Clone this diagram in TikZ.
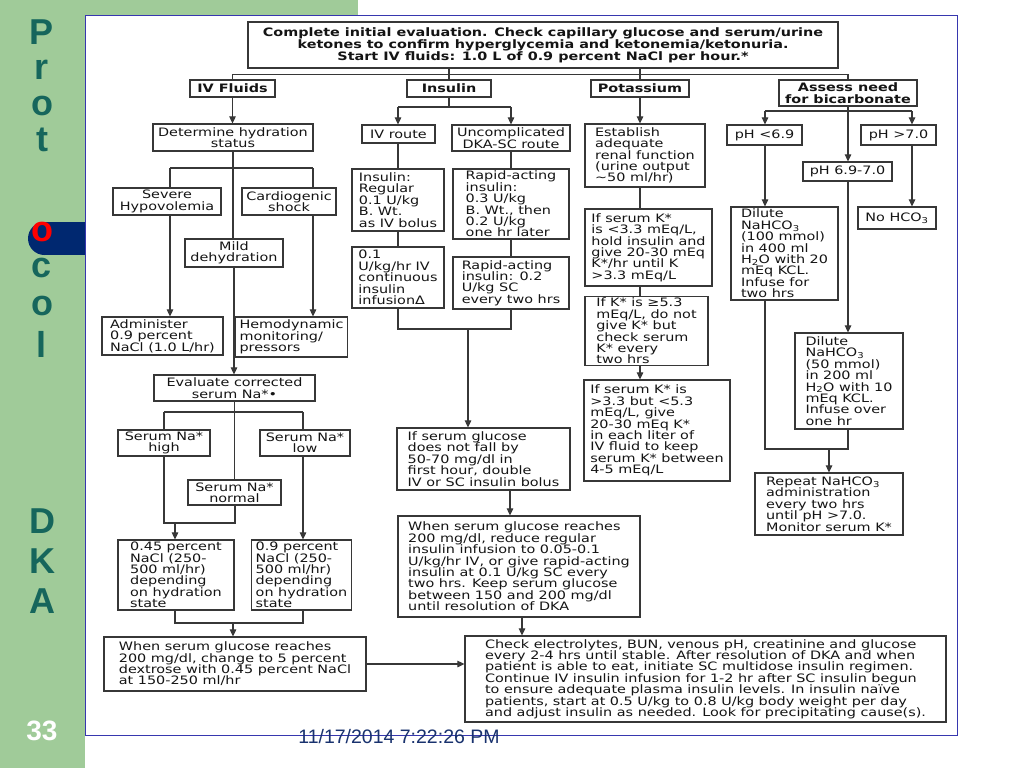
\documentclass[tikz,border=0pt]{standalone}
\usepackage{fontspec}
\usetikzlibrary{arrows.meta}
\newfontfamily\diagfont[FakeStretch=1.24]{DejaVu Sans}
\newfontfamily\sidefont{Liberation Sans}
\definecolor{sidegreen}{RGB}{160,203,153}
\definecolor{sideteal}{RGB}{22,102,92}
\definecolor{tabnavy}{RGB}{0,40,112}
\definecolor{frameblue}{RGB}{55,55,175}
\definecolor{datecol}{RGB}{25,50,110}
\definecolor{boxline}{RGB}{55,55,55}
\definecolor{txt}{RGB}{20,20,20}
\newcommand{\mybox}[7][]{%
  \pgfmathsetmacro{\myw}{#5-#3}%
  \pgfmathsetmacro{\myh}{#6-#4}%
  \pgfmathsetmacro{\mycx}{(#3+#5)/2}%
  \pgfmathsetmacro{\mycy}{(#4+#6)/2}%
  \node[bx,minimum width=\myw pt,minimum height=\myh pt,#1] (#2) at (\mycx,\mycy) {#7};%
}
\begin{document}
\begin{tikzpicture}[x=1pt,y=-1pt,
  bx/.style={draw=boxline,line width=1.2pt,fill=white,text=txt,inner xsep=4pt,inner ysep=1.5pt,
    align=left,font=\diagfont\fontsize{11.6pt}{11.4pt}\selectfont},
  ctr/.style={align=center},
  hdr/.style={align=center,font=\diagfont\bfseries\fontsize{11.6pt}{11.9pt}\selectfont},
  ln/.style={draw=boxline,line width=1.1pt},
  arr/.style={draw=boxline,line width=1.1pt,-{Triangle[length=7pt,width=6.5pt]}},
  sidel/.style={anchor=base,inner sep=0pt,text=sideteal,font=\sidefont\bfseries\fontsize{36pt}{36pt}\selectfont}]
\useasboundingbox (0,0) rectangle (1024,768);
\fill[white] (0,0) rectangle (1024,768);
% sidebar
\fill[sidegreen] (0,0) rectangle (85,768);
\fill[sidegreen] (0,0) rectangle (358,15);
\fill[tabnavy] (44.5,238.5) circle[radius=16.5];
\fill[tabnavy] (44.5,222) rectangle (85,255);
\node[sidel] (sP) at (42,45) {P};
\node[sidel] (sr) at (42,79) {r};
\node[sidel] (so1) at (42,115) {o};
\node[sidel] (st) at (42,151) {t};
\node[sidel,text=red] (so2) at (42,241) {o};
\node[sidel] (sc) at (42,277) {c};
\node[sidel] (so3) at (42,315) {o};
\node[sidel] (sl) at (42,357) {l};
\node[sidel] (sD) at (42,533) {D};
\node[sidel] (sK) at (42,573) {K};
\node[sidel] (sA) at (42,613) {A};
\node[sidel,text=white,font=\sidefont\bfseries\fontsize{28pt}{28pt}\selectfont] (s33) at (42,740) {33};
% frame
\draw[frameblue,line width=1pt] (85,16) -- (957,16) -- (957,735) -- (85,735) -- cycle;
\node[anchor=base,text=datecol,font=\sidefont\fontsize{19.5pt}{20pt}\selectfont] (date) at (399,743) {11/17/2014 7:22:26 PM};

% ---------- boxes ----------
\mybox[hdr]{top}{248}{22}{838}{68}{Complete initial evaluation. Check capillary glucose and serum/urine\\ketones to confirm hyperglycemia and ketonemia/ketonuria.\\Start IV fluids: 1.0 L of 0.9 percent NaCl per hour.*}
\mybox[hdr]{ivf}{190}{80}{275}{97}{IV Fluids}
\mybox[hdr]{ins}{407}{80}{491}{97}{Insulin}
\mybox[hdr]{pot}{591}{80}{689}{97}{Potassium}
\mybox[hdr]{bic}{779}{80}{917}{106}{Assess need\\for bicarbonate}
% IV fluids
\mybox[ctr]{det}{153}{124}{313}{151}{Determine hydration\\status}
\mybox[ctr]{sev}{113}{188}{221}{215}{Severe\\Hypovolemia}
\mybox[ctr]{card}{242}{188}{336}{215}{Cardiogenic\\shock}
\mybox[ctr]{mild}{185}{239}{283}{267}{Mild\\dehydration}
\mybox{adm}{102}{317}{223}{355}{Administer\\0.9 percent\\NaCl (1.0 L/hr)}
\mybox{hemo}{245}{317}{338}{357}{Hemodynamic\\monitoring/\\pressors}
\mybox[ctr]{eval}{154}{375}{315}{401}{Evaluate corrected\\serum Na*•}
\mybox[ctr]{nahigh}{118}{430}{210}{456}{Serum Na*\\high}
\mybox[ctr]{nalow}{260}{430}{350}{456}{Serum Na*\\low}
\mybox[ctr]{nanorm}{188}{480}{281}{505}{Serum Na*\\normal}
\mybox{p045}{118}{540}{234}{610}{0.45 percent\\NaCl (250-\\500 ml/hr)\\depending\\on hydration\\state}
\mybox{p09}{253}{540}{350}{610}{0.9 percent\\NaCl (250-\\500 ml/hr)\\depending\\on hydration\\state}
\mybox{dex}{104}{637}{366}{691}{When serum glucose reaches\\200 mg/dl, change to 5 percent\\dextrose with 0.45 percent NaCl\\at 150-250 ml/hr}
% Insulin
\mybox[ctr]{ivr}{362}{125}{435}{143}{IV route}
\mybox[ctr]{unc}{452}{125}{570}{151}{Uncomplicated\\DKA-SC route}
\mybox{reg}{352}{169}{444}{231}{Insulin:\\Regular\\0.1 U/kg\\B. Wt.\\as IV bolus}
\mybox{rap}{453}{169}{569}{239}{Rapid-acting\\insulin:\\0.3 U/kg\\B. Wt., then\\0.2 U/kg\\one hr later}
\mybox{inf}{352}{247}{444}{308}{0.1\\U/kg/hr IV\\continuous\\insulin\\infusionΔ}
\mybox{rap2}{453}{257}{569}{309}{Rapid-acting\\insulin: 0.2\\U/kg SC\\every two hrs}
\mybox{fall}{397}{428}{570}{490}{If serum glucose\\does not fall by\\50-70 mg/dl in\\first hour, double\\IV or SC insulin bolus}
\mybox{red}{398}{516}{640}{617}{When serum glucose reaches\\200 mg/dl, reduce regular\\insulin infusion to 0.05-0.1\\U/kg/hr IV, or give rapid-acting\\insulin at 0.1 U/kg SC every\\two hrs. Keep serum glucose\\between 150 and 200 mg/dl\\until resolution of DKA}
\mybox{final}{465}{636}{946}{722}{Check electrolytes, BUN, venous pH, creatinine and glucose\\every 2-4 hrs until stable. After resolution of DKA and when\\patient is able to eat, initiate SC multidose insulin regimen.\\Continue IV insulin infusion for 1-2 hr after SC insulin begun\\to ensure adequate plasma insulin levels. In insulin naïve\\patients, start at 0.5 U/kg to 0.8 U/kg body weight per day\\and adjust insulin as needed. Look for precipitating cause(s).}
% Potassium
\mybox{est}{585}{124}{705}{187}{Establish\\adequate\\renal function\\(urine output\\\textasciitilde 50 ml/hr)}
\mybox{k1}{585}{209}{712}{286}{If serum K*\\is <3.3 mEq/L,\\hold insulin and\\give 20-30 mEq\\K*/hr until K\\>3.3 mEq/L}
\mybox{k2}{585}{297}{708}{365}{If K* is ≥5.3\\mEq/L, do not\\give K* but\\check serum\\K* every\\two hrs}
\mybox{k3}{584}{380}{730}{481}{If serum K* is\\>3.3 but <5.3\\mEq/L, give\\20-30 mEq K*\\in each liter of\\IV fluid to keep\\serum K* between\\4-5 mEq/L}
% Bicarbonate
\mybox[ctr]{ph1}{727}{125}{802}{145}{pH <6.9}
\mybox[ctr]{ph3}{861}{125}{936}{145}{pH >7.0}
\mybox[ctr]{ph2}{803}{162}{892}{181}{pH 6.9-7.0}
\mybox{dil1}{731}{207}{838}{300}{Dilute\\NaHCO\textsubscript{3}\\(100 mmol)\\in 400 ml\\H\textsubscript{2}O with 20\\mEq KCL.\\Infuse for\\two hrs}
\mybox[ctr]{noh}{858}{207}{936}{229}{No HCO\textsubscript{3}}
\mybox{dil2}{795}{333}{903}{429}{Dilute\\NaHCO\textsubscript{3}\\(50 mmol)\\in 200 ml\\H\textsubscript{2}O with 10\\mEq KCL.\\Infuse over\\one hr}
\mybox{rep}{755}{473}{903}{535}{Repeat NaHCO\textsubscript{3}\\administration\\every two hrs\\until pH >7.0.\\Monitor serum K*}

% ---------- connectors ----------
\path (ivf.north) ++(0,-5) coordinate (hL);
\path (bic.north) ++(0,-5) coordinate (hR);
\draw[ln] (hL) -- (hR);
\draw[ln] (hL) -- (ivf.north);
\draw[ln] (hR) -- (bic.north);
\draw[ln] (top.south -| ins.north) -- (ins.north);
\draw[ln] (top.south -| pot.north) -- (pot.north);
% IV fluids
\draw[arr] (ivf.south) -- (ivf.south |- det.north);
\draw[ln] (det.south) -- (det.south |- mild.north);
\draw[arr] (mild.south) -- (mild.south |- eval.north);
\coordinate (b1L) at (170,168);
\coordinate (b1R) at (313,168);
\draw[ln] (b1L) -- (b1R);
\draw[ln] (b1L) -- (b1L |- sev.north);
\draw[arr] (b1L |- sev.south) -- (b1L |- adm.north);
\draw[ln] (b1R) -- (b1R |- card.north);
\draw[arr] (b1R |- card.south) -- (b1R |- hemo.north);
\coordinate (b2L) at (164,412);
\coordinate (b2R) at (303,412);
\draw[ln] (b2L) -- (b2R);
\draw[ln] (eval.south) -- (eval.south |- nanorm.north);
\draw[ln] (b2L) -- (b2L |- nahigh.north);
\draw[ln] (b2R) -- (b2R |- nalow.north);
\coordinate (j1L) at (164,523);
\coordinate (j1R) at (235,523);
\coordinate (j1A) at (175,523);
\draw[ln] (j1L |- nahigh.south) -- (j1L) -- (j1R) -- (j1R |- nanorm.south);
\draw[arr] (j1A) -- (j1A |- p045.north);
\draw[arr] (b2R |- nalow.south) -- (b2R |- p09.north);
\coordinate (j2L) at (175,623);
\coordinate (j2R) at (303,623);
\coordinate (j2A) at (233,623);
\draw[ln] (j2L |- p045.south) -- (j2L) -- (j2R) -- (j2R |- p09.south);
\draw[arr] (j2A) -- (j2A |- dex.north);
\draw[arr] (dex.east) -- (dex.east -| final.west);
% Insulin
\coordinate (i1L) at (398,107);
\coordinate (i1R) at (511,107);
\draw[ln] (ins.south) -- (ins.south |- i1L);
\draw[ln] (i1L) -- (i1R);
\draw[arr] (i1L) -- (i1L |- ivr.north);
\draw[arr] (i1R) -- (i1R |- unc.north);
\draw[ln] (i1L |- ivr.south) -- (i1L |- reg.north);
\draw[ln] (i1L |- reg.south) -- (i1L |- inf.north);
\draw[ln] (i1R |- unc.south) -- (i1R |- rap.north);
\draw[ln] (i1R |- rap.south) -- (i1R |- rap2.north);
\coordinate (i2L) at (398,329);
\coordinate (i2R) at (511,329);
\coordinate (i2A) at (468,329);
\draw[ln] (i2L |- inf.south) -- (i2L) -- (i2R) -- (i2R |- rap2.south);
\draw[arr] (i2A) -- (i2A |- fall.north);
\coordinate (i3) at (510,500);
\draw[arr] (fall.south -| i3) -- (red.north -| i3);
\coordinate (i4) at (522,625);
\draw[arr] (red.south -| i4) -- (final.north -| i4);
% Potassium
\draw[arr] (pot.south) -- (pot.south |- est.north);
\draw[ln] (pot.south |- est.south) -- (pot.south |- k1.north);
\draw[ln] (pot.south |- k1.south) -- (pot.south |- k2.north);
\draw[arr] (pot.south |- k2.south) -- (pot.south |- k3.north);
% Bicarbonate
\coordinate (c1L) at (765,111);
\coordinate (c1R) at (912,111);
\draw[ln] (bic.south) -- (bic.south |- c1L);
\draw[ln] (c1L) -- (c1R);
\draw[arr] (c1L) -- (c1L |- ph1.north);
\draw[arr] (c1R) -- (c1R |- ph3.north);
\draw[arr] (bic.south |- c1L) -- (bic.south |- ph2.north);
\draw[arr] (c1L |- ph1.south) -- (c1L |- dil1.north);
\draw[arr] (c1R |- ph3.south) -- (c1R |- noh.north);
\draw[arr] (bic.south |- ph2.south) -- (bic.south |- dil2.north);
\coordinate (c2L) at (765,449);
\coordinate (c2R) at (848,449);
\coordinate (c2A) at (829,449);
\draw[ln] (c2L |- dil1.south) -- (c2L) -- (c2R) -- (c2R |- dil2.south);
\draw[arr] (c2A) -- (c2A |- rep.north);
\end{tikzpicture}
\end{document}
